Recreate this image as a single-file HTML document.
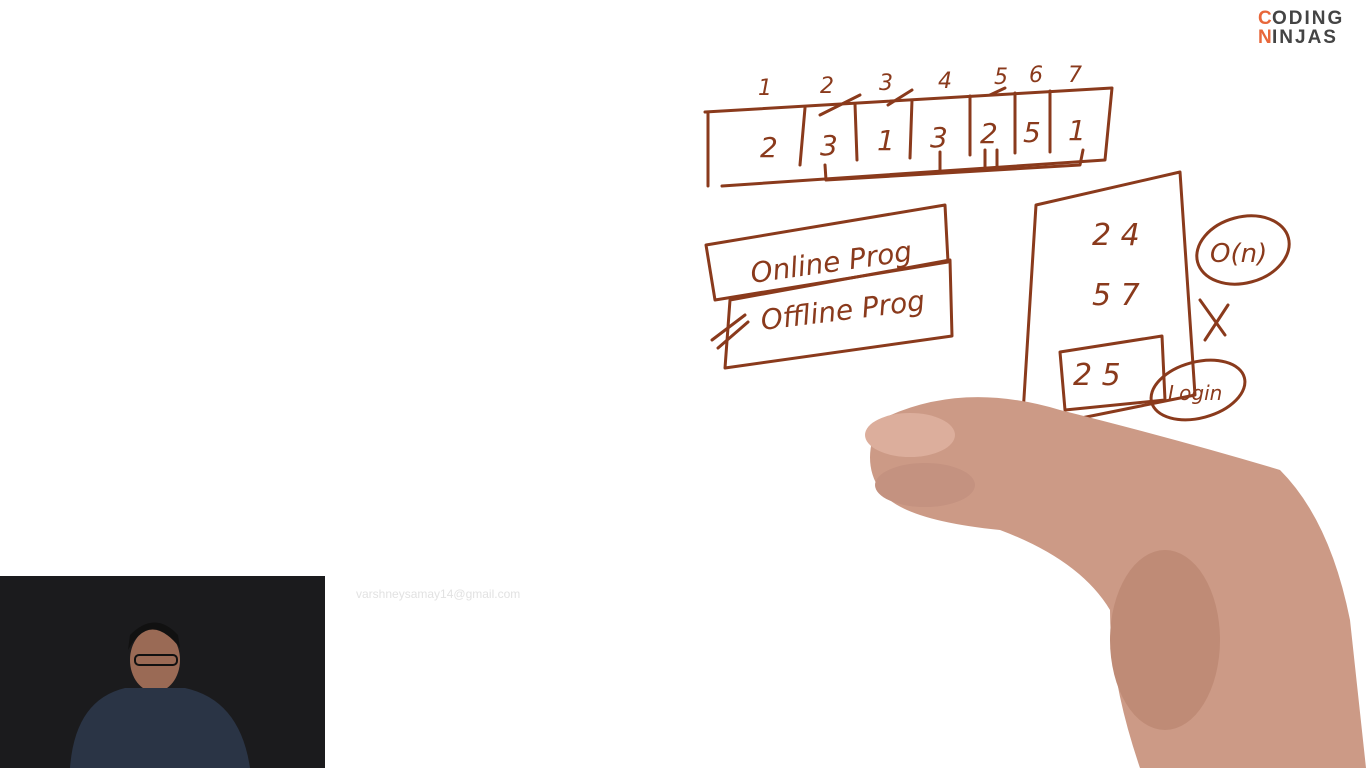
<!DOCTYPE html>
<html><head><meta charset="utf-8"><style>
html,body{margin:0;padding:0;background:#fff;width:1366px;height:768px;overflow:hidden}
svg{display:block}
.ink{fill:none;stroke:#8a3a1c;stroke-width:3;stroke-linecap:round;stroke-linejoin:round}
.hw{font-family:"DejaVu Sans","Liberation Sans",sans-serif;fill:#8a3a1c;font-style:italic}
</style></head><body>
<svg width="1366" height="768" viewBox="0 0 1366 768">
<rect width="1366" height="768" fill="#fff"/>
<g font-family="Liberation Sans,sans-serif" font-weight="bold" font-size="19">
<text x="1258" y="24" fill="#e8673a">C</text><text x="1272" y="24" fill="#444" letter-spacing="2">ODING</text>
<text x="1258" y="43" fill="#e8673a">N</text><text x="1272" y="43" fill="#444" letter-spacing="2">INJAS</text>
</g>
<g>
<path class="ink" d="M705 112 L1112 88 L1105 160 L722 186 M708 112 L708 186"/>
<path class="ink" d="M805 108 L800 165 M855 104 L857 160 M912 100 L910 158 M970 96 L970 155 M1015 93 L1015 153 M1050 91 L1050 152"/>
<path class="ink" d="M825 165 L826 180 L1080 165 L1083 150 M940 152 L940 170 M985 150 L985 170 M997 150 L997 170 M820 115 L860 95 M888 105 L912 90 M990 95 L1005 88"/>
<g class="hw" font-size="22">
<text x="758" y="95">1</text><text x="820" y="93">2</text><text x="879" y="90">3</text><text x="938" y="88">4</text><text x="994" y="84">5</text><text x="1029" y="82">6</text><text x="1068" y="82">7</text>
<text x="760" y="157" font-size="28">2</text><text x="820" y="155" font-size="28">3</text><text x="877" y="150" font-size="28">1</text><text x="930" y="147" font-size="28">3</text><text x="980" y="143" font-size="28">2</text><text x="1023" y="142" font-size="28">5</text><text x="1068" y="140" font-size="28">1</text>
</g></g>
<g>
<path class="ink" d="M706 245 L945 205 L948 262 L715 300 Z"/>
<path class="ink" d="M730 300 L950 260 L952 336 L725 368 Z"/>
<path class="ink" d="M712 340 L745 315 M718 348 L748 322"/>
<text class="hw" x="752" y="283" font-size="28" transform="rotate(-8 752 283)">Online Prog</text>
<text class="hw" x="762" y="330" font-size="28" transform="rotate(-7 762 330)">Offline Prog</text>
</g>
<g>
<path class="ink" d="M1036 205 L1180 172 L1195 395 L1022 430 Z"/>
<path class="ink" d="M1060 352 L1162 336 L1165 400 L1065 410 Z"/>
<g class="hw" font-size="30"><text x="1092" y="245">2 4</text><text x="1092" y="305">5 7</text><text x="1073" y="385">2 5</text></g>
<ellipse class="ink" cx="1243" cy="250" rx="47" ry="33" transform="rotate(-15 1243 250)"/>
<text class="hw" x="1210" y="262" font-size="26">O(n)</text>
<ellipse class="ink" cx="1198" cy="390" rx="48" ry="28" transform="rotate(-15 1198 390)"/>
<text class="hw" x="1168" y="400" font-size="20">Login</text>
<path class="ink" d="M1200 300 L1225 335 M1228 305 L1205 340"/>
</g>
<g>
<path d="M880 420 Q960 380 1060 410 Q1180 440 1280 470 Q1330 520 1350 620 L1366 768 L1140 768 Q1110 680 1110 610 Q1080 560 1000 530 Q900 520 880 490 Q860 460 880 420Z" fill="#cc9a86"/>
<ellipse cx="910" cy="435" rx="45" ry="22" fill="#dcae9c"/>
<ellipse cx="925" cy="485" rx="50" ry="22" fill="#c49280"/>
<ellipse cx="1165" cy="640" rx="55" ry="90" fill="#bf8b76"/>
</g>
<text x="356" y="598" font-family="Liberation Sans,sans-serif" font-size="12" fill="#e2e2e2">varshneysamay14@gmail.com</text>
<g>
<rect x="0" y="576" width="325" height="192" fill="#1b1b1d"/>
<ellipse cx="155" cy="660" rx="25" ry="32" fill="#9a6a55"/>
<path d="M128 650 Q150 610 180 648 L178 635 Q155 610 130 635Z" fill="#111"/>
<path d="M70 768 Q75 700 125 688 L185 688 Q240 700 250 768Z" fill="#2a3445"/>
<rect x="135" y="655" width="42" height="10" rx="4" fill="none" stroke="#111" stroke-width="2"/>
</g>
</svg>
</body></html>
